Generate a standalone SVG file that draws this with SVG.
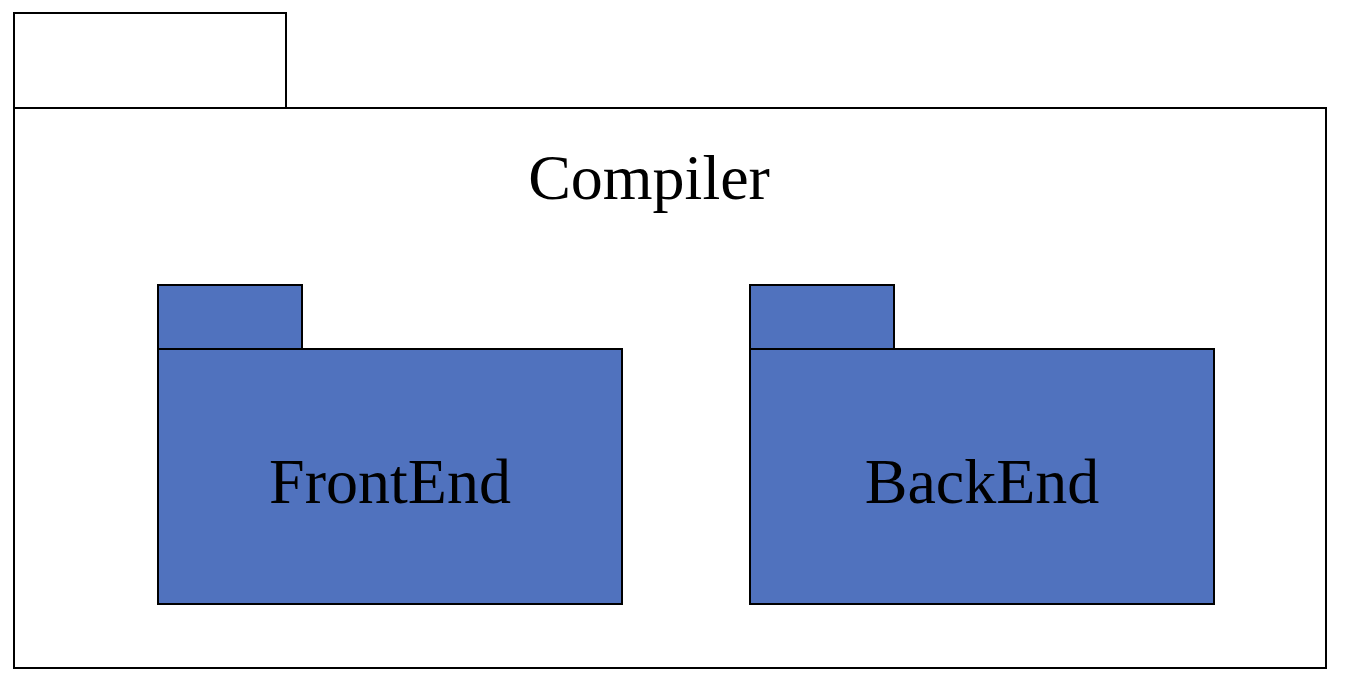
<svg xmlns="http://www.w3.org/2000/svg" width="1358" height="678" viewBox="0 0 1358 678">
<style>
.outer{fill:#fff;stroke:#000;stroke-width:2}
.pkg{fill:#5072BE;stroke:#000;stroke-width:2}
.t{font-family:"Liberation Serif","Times New Roman",serif;font-size:64px;fill:#000;text-anchor:middle}
</style>
<rect width="1358" height="678" fill="#fff"/>
<g id="compiler">
<rect class="outer" x="14" y="13" width="272" height="95"/>
<rect class="outer" x="14" y="108" width="1312" height="560"/>
<text class="t" x="649" y="199">Compiler</text>
</g>
<g id="frontend">
<rect class="pkg" x="158" y="285" width="144" height="64"/>
<rect class="pkg" x="158" y="349" width="464" height="255"/>
<text class="t" x="390" y="503">FrontEnd</text>
</g>
<g id="backend">
<rect class="pkg" x="750" y="285" width="144" height="64"/>
<rect class="pkg" x="750" y="349" width="464" height="255"/>
<text class="t" x="982" y="503">BackEnd</text>
</g>
<g id="connectors"/>
</svg>
